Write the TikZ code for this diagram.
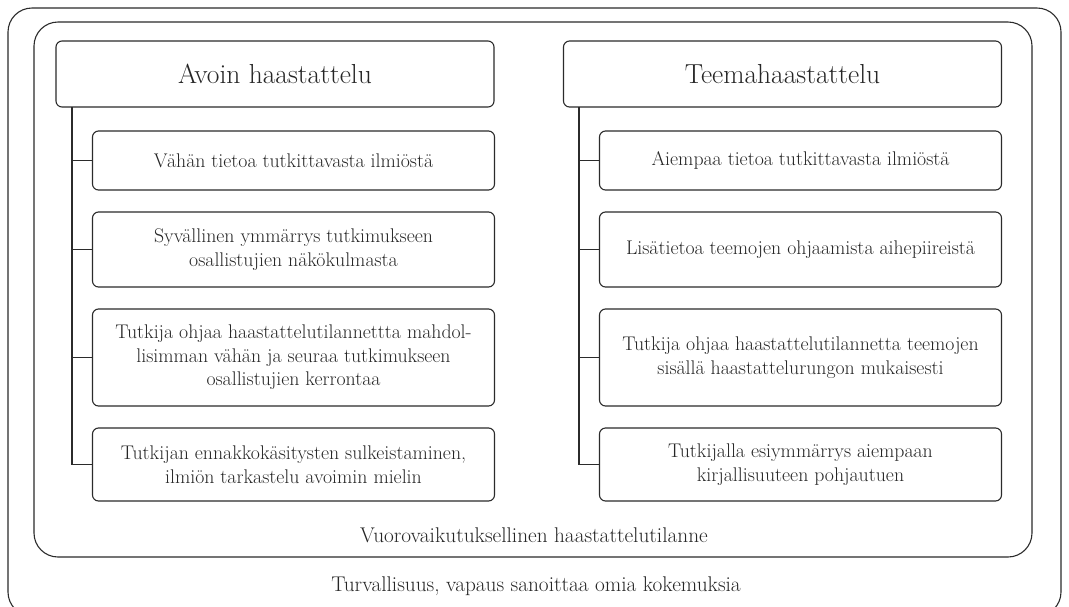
\documentclass[tikz,border=0pt]{standalone}
\usepackage{fontspec}
\definecolor{viiva}{HTML}{2B2B2B}
\definecolor{teksti}{HTML}{262626}

\begin{document}
\begin{tikzpicture}[x=1pt,y=-1pt,
   otsikko/.style={draw=viiva,line width=1.1pt,rounded corners=6pt,minimum width=438pt,minimum height=66pt,
     text=teksti,font=\fontsize{27.5}{32}\selectfont},
   kohta/.style={draw=viiva,line width=1.1pt,rounded corners=6pt,minimum width=402pt,align=center,
     text=teksti,font=\fontsize{19.8}{23.5}\selectfont},
   kehys/.style={draw=viiva,line width=1.1pt,rounded corners=24pt},
   alateksti/.style={text=teksti,font=\fontsize{21.3}{25}\selectfont},
   haara/.style={draw=viiva,line width=1.1pt}]

  \clip (0,0) rectangle (1069,606);
  \fill[white] (0,0) rectangle (1069,606);

  % kehykset
  \draw[kehys] (8,8) rectangle (1061,616);
  \draw[kehys] (34,22) rectangle (1032,557);
  \node[alateksti] (vuoro) at (534,535) {Vuorovaikutuksellinen haastattelutilanne};
  \node[alateksti] (turva) at (536,586) {Turvallisuus, vapaus sanoittaa omia kokemuksia};

  % --- Avoin haastattelu ---
  \node[otsikko] (avoin) at (275,74) {Avoin haastattelu};
  \node[kohta,minimum height=59pt] (a1) at (293.5,160.5) {Vähän tietoa tutkittavasta ilmiöstä};
  \node[kohta,minimum height=75pt] (a2) at (293.5,249.5) {Syvällinen ymmärrys tutkimukseen\\osallistujien näkökulmasta};
  \node[kohta,minimum height=97pt] (a3) at (293.5,357.5) {Tutkija ohjaa haastattelutilannettta mahdol-\\lisimman vähän ja seuraa tutkimukseen\\osallistujien kerrontaa};
  \node[kohta,minimum height=73pt] (a4) at (293.5,464.5) {Tutkijan ennakkokäsitysten sulkeistaminen,\\ilmiön tarkastelu avoimin mielin};

  % --- Teemahaastattelu ---
  \node[otsikko] (teema) at (782.5,74) {Teemahaastattelu};
  \node[kohta,minimum height=59pt] (t1) at (800.5,160.5) {Aiempaa tietoa tutkittavasta ilmiöstä};
  \node[kohta,minimum height=75pt] (t2) at (800.5,249.5) {Lisätietoa teemojen ohjaamista aihepiireistä};
  \node[kohta,minimum height=97pt] (t3) at (800.5,357.5) {Tutkija ohjaa haastattelutilannetta teemojen\\sisällä haastattelurungon mukaisesti};
  \node[kohta,minimum height=73pt] (t4) at (800.5,464.5) {Tutkijalla esiymmärrys aiempaan\\kirjallisuuteen pohjautuen};

  % haarat
  \coordinate (arunko) at (72,107);
  \coordinate (trunko) at (579,107);
  \draw[haara] (arunko) |- (a4.west);
  \draw[haara] (trunko) |- (t4.west);
  \foreach \i in {1,2,3} {
    \draw[haara] (a\i.west) -- (a\i.west -| arunko);
    \draw[haara] (t\i.west) -- (t\i.west -| trunko);
  }
\end{tikzpicture}
\end{document}
